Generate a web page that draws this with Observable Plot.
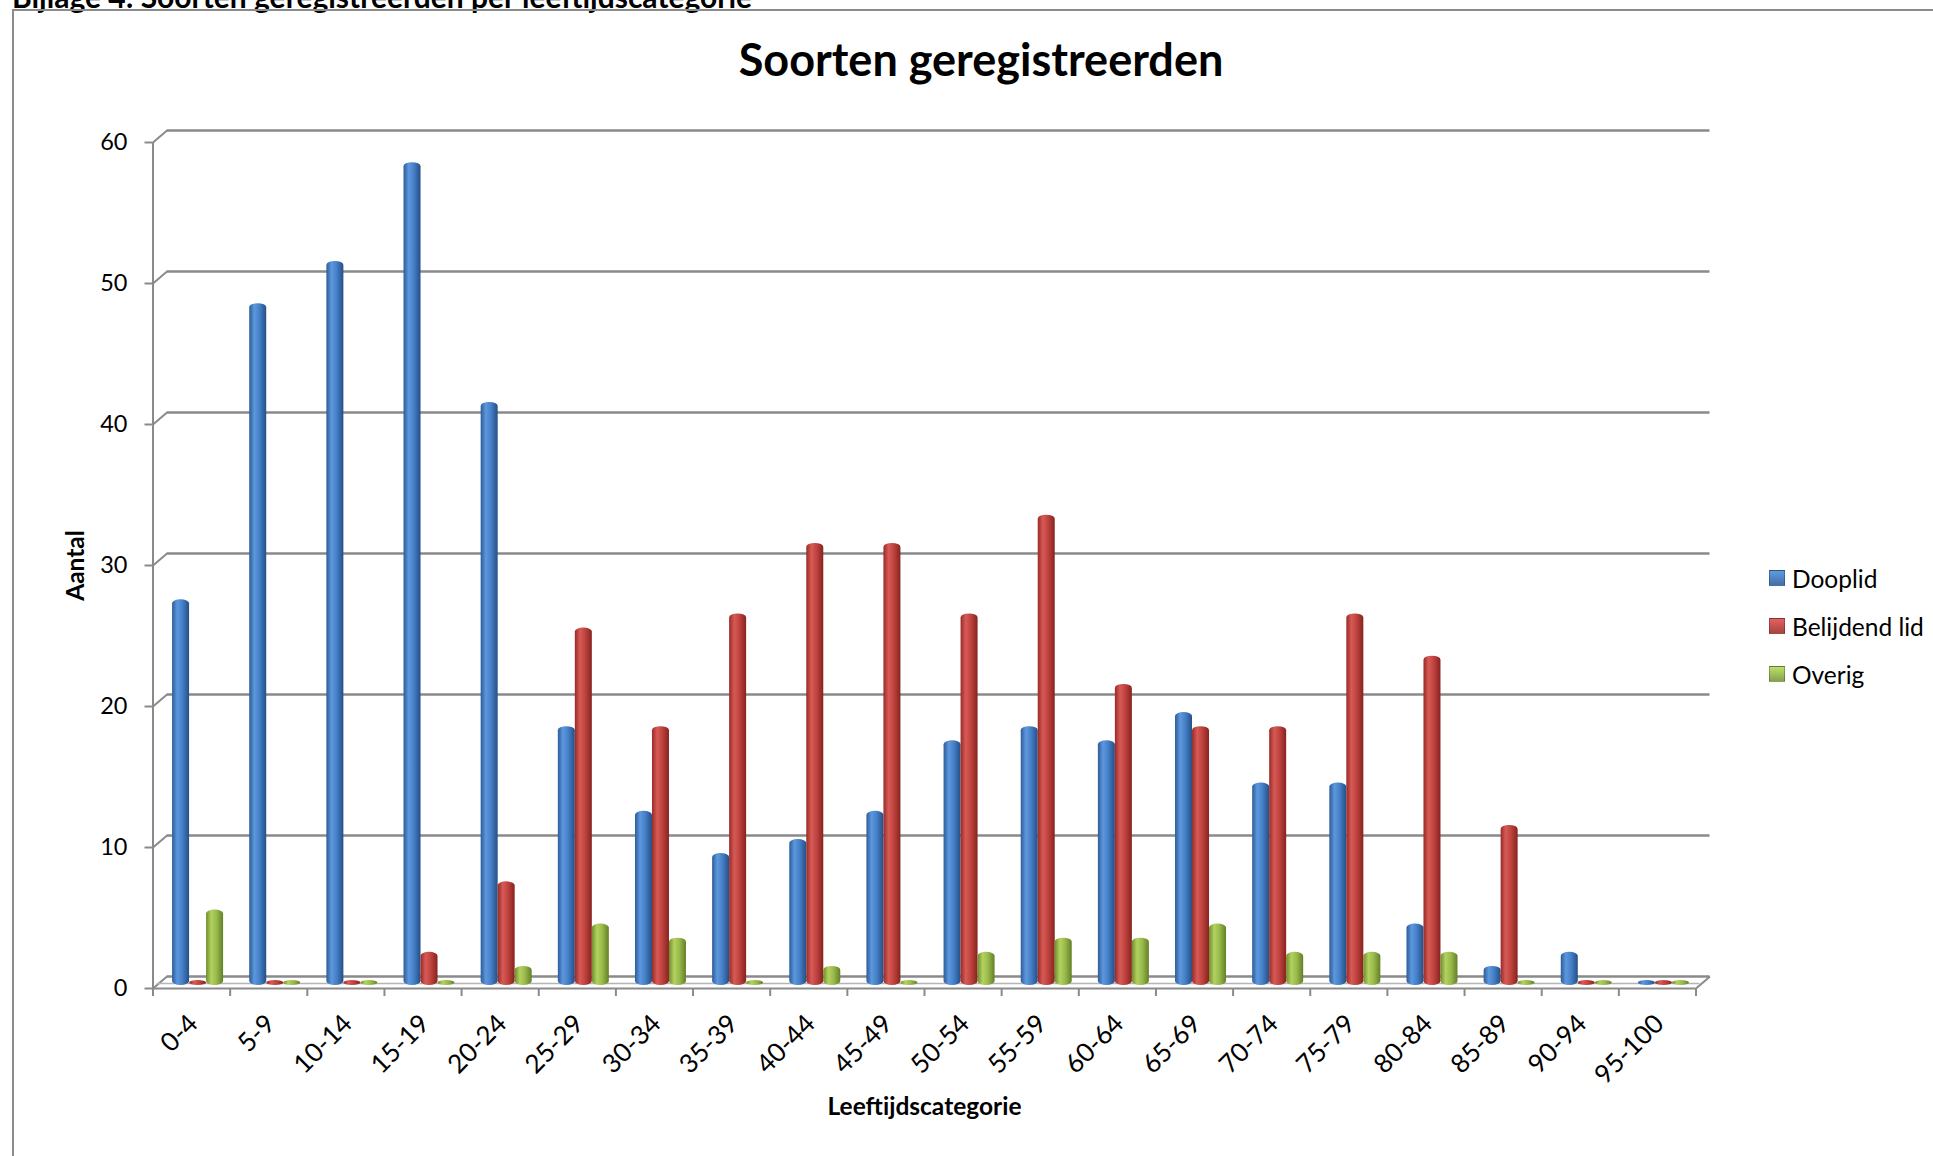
<!DOCTYPE html>
<html>
<head>
<meta charset="utf-8">
<script src="https://cdn.jsdelivr.net/npm/d3@7"></script>
<script src="https://cdn.jsdelivr.net/npm/@observablehq/plot@0.6"></script>
<style>
  html, body { margin: 0; padding: 0; background: #fff; }
  body { width: 1933px; height: 1156px; overflow: hidden; position: relative; font-family: Lato, "Open Sans", sans-serif; color: #000; }
  #header { position: absolute; left: 12px; top: -19px; font-size: 30px; line-height: 30px; font-weight: 700; white-space: nowrap; }
  #box { position: absolute; left: 12px; top: 9px; width: 2100px; height: 2100px; border: 2px solid #8c8c8c; box-sizing: border-box; }
  #title { position: absolute; left: 0; width: 1962px; top: 37px; text-align: center; font-size: 45px; line-height: 45px; font-weight: 700; white-space: nowrap; }
  #chart { position: absolute; left: 0; top: 0; }
  #legend { position: absolute; left: 1769px; top: 554px; font-size: 24.5px; }
  .item { display: flex; align-items: center; height: 48px; white-space: nowrap; }
  .sw { width: 14px; height: 14px; margin-right: 7px; border: 1px solid rgba(0,0,0,0.25); }
</style>
</head>
<body>
<svg width="0" height="0" style="position:absolute">
  <defs>
    <linearGradient id="gBlue" x1="0" y1="0" x2="1" y2="0">
      <stop offset="0" stop-color="#2b5c98"/>
      <stop offset="0.3" stop-color="#5d97dc"/>
      <stop offset="0.6" stop-color="#4680c8"/>
      <stop offset="1" stop-color="#244f86"/>
    </linearGradient>
    <linearGradient id="gRed" x1="0" y1="0" x2="1" y2="0">
      <stop offset="0" stop-color="#982a27"/>
      <stop offset="0.3" stop-color="#d65a56"/>
      <stop offset="0.6" stop-color="#c0433f"/>
      <stop offset="1" stop-color="#86231f"/>
    </linearGradient>
    <linearGradient id="gGreen" x1="0" y1="0" x2="1" y2="0">
      <stop offset="0" stop-color="#6f8c2c"/>
      <stop offset="0.3" stop-color="#b2d160"/>
      <stop offset="0.6" stop-color="#9abc4c"/>
      <stop offset="1" stop-color="#647f27"/>
    </linearGradient>
  </defs>
</svg>
<div id="header">Bijlage 4: Soorten geregistreerden per leeftijdscategorie</div>
<div id="box"></div>
<div id="title">Soorten geregistreerden</div>
<div id="chart"></div>
<div id="legend"></div>
<script>
// ---- data ----
const categories = ["0-4","5-9","10-14","15-19","20-24","25-29","30-34","35-39","40-44","45-49",
                    "50-54","55-59","60-64","65-69","70-74","75-79","80-84","85-89","90-94","95-100"];
const dooplid   = [27,48,51,58,41,18,12, 9,10,12,17,18,17,19,14,14, 4, 1, 2, 0];
const belijdend = [ 0, 0, 0, 2, 7,25,18,26,31,31,26,33,21,18,18,26,23,11, 0, 0];
const overig    = [ 5, 0, 0, 0, 1, 4, 3, 0, 1, 0, 2, 3, 3, 4, 2, 2, 2, 0, 0, 0];
const seriesNames = ["Dooplid", "Belijdend lid", "Overig"];
const seriesColors = ["#4F81BD", "#C0504D", "#9BBB59"];
const yTicks = [0, 10, 20, 30, 40, 50, 60];
const yLabel = "Aantal";
const xLabel = "Leeftijdscategorie";

// ---- layout ----
const W = 1933, H = 1156;
const mL = 152.5, mR = 237.5, mT = 142, mB = 168;
const xLo = -0.5, xHi = categories.length - 0.5;
const yMax = d3.max(yTicks);
const xUnit = (W - mL - mR) / (xHi - xLo);
const yUnit = (H - mT - mB) / yMax;
const DEPTH_X = 14, DEPTH_Y = 12;       // 3D back-wall offset (px)
const BAR_DX = 6.5, BAR_DY = -5;        // bar plane offset (px)
const BAR_W = 17;
const gray = "#8a8a8a";

const rows = categories.map((c, i) => ({i, cat: c, dooplid: dooplid[i], belijdend: belijdend[i], overig: overig[i]}));
const boundaries = d3.range(categories.length + 1).map(k => k - 0.5);
const inset = (xUnit - BAR_W) / 2;

function bars(field, fill, offset) {
  return Plot.rectY(rows, {
    x1: d => d.i - 0.5, x2: d => d.i + 0.5, y: field,
    fill, insetLeft: inset, insetRight: inset, insetTop: -3, insetBottom: -2,
    rx: BAR_W / 2, ry: 4, dx: BAR_DX + offset, dy: BAR_DY
  });
}

const chart = Plot.plot({
  width: W, height: H,
  marginLeft: mL, marginRight: mR, marginTop: mT, marginBottom: mB,
  x: {domain: [xLo, xHi], axis: null},
  y: {domain: [0, yMax], axis: null},
  style: {fontFamily: "Lato, 'Open Sans', sans-serif", fontSize: "23.5px", color: "#000", background: "transparent", overflow: "visible"},
  marks: [
    // back wall gridlines
    Plot.ruleY(yTicks, {y: d => d, x1: () => xLo, x2: () => xHi, dx: DEPTH_X, dy: -DEPTH_Y, stroke: gray, strokeWidth: 2.5}),
    // left-side diagonals
    Plot.link(yTicks, {x1: () => xLo, y1: d => d, x2: () => xLo + DEPTH_X / xUnit, y2: d => d + DEPTH_Y / yUnit, stroke: gray, strokeWidth: 2}),
    // floor right diagonal
    Plot.link([0], {x1: () => xHi, y1: d => d, x2: () => xHi + DEPTH_X / xUnit, y2: d => d + DEPTH_Y / yUnit, stroke: gray, strokeWidth: 2}),
    // floor front-top edge
    Plot.ruleY([0], {y: d => d, x1: () => xLo, x2: () => xHi, dx: 4, dy: -5, stroke: "#b5b5b5", strokeWidth: 1.5}),
    // front axes
    Plot.ruleX([xLo], {x: d => d, y1: () => 0, y2: () => yMax, stroke: gray, strokeWidth: 2}),
    Plot.ruleY([0], {y: d => d, x1: () => xLo, x2: () => xHi, stroke: gray, strokeWidth: 2}),
    // ticks
    Plot.ruleY(yTicks, {y: d => d, x1: () => xLo, x2: () => xLo, insetLeft: -8, stroke: gray, strokeWidth: 2}),
    Plot.ruleX(boundaries, {x: d => d, y1: () => 0, y2: () => 0, insetBottom: -8, stroke: gray, strokeWidth: 2}),
    // bars
    bars("dooplid", "url(#gBlue)", -BAR_W),
    bars("belijdend", "url(#gRed)", 0),
    bars("overig", "url(#gGreen)", BAR_W),
    // y tick labels
    Plot.text(yTicks, {x: () => xLo, y: d => d, text: d => String(d), textAnchor: "end", dx: -25.5, fontSize: 23.5}),
    // x tick labels
    Plot.text(rows, {x: d => d.i, y: () => 0, text: d => d.cat, rotate: -45, textAnchor: "end", dx: 2, dy: 31, fontSize: 26}),
    // axis titles
    Plot.text([yLabel], {frameAnchor: "left", text: d => d, rotate: -90, textAnchor: "middle", lineAnchor: "middle", dx: -76.5, fontWeight: "bold", fontSize: 24.5}),
    Plot.text([xLabel], {frameAnchor: "bottom", text: d => d, textAnchor: "middle", lineAnchor: "middle", dy: 119, fontWeight: "bold", fontSize: 24.5})
  ]
});
document.getElementById("chart").appendChild(chart);

// legend
const legend = document.getElementById("legend");
seriesNames.forEach((name, k) => {
  const item = document.createElement("div");
  item.className = "item";
  const sw = document.createElement("span");
  sw.className = "sw";
  sw.style.background = `linear-gradient(180deg, ${d3.color(seriesColors[k]).brighter(0.5)} 0%, ${seriesColors[k]} 60%, ${d3.color(seriesColors[k]).darker(0.4)} 100%)`;
  const t = document.createElement("span");
  t.textContent = name;
  item.appendChild(sw); item.appendChild(t);
  legend.appendChild(item);
});
</script>
</body>
</html>
